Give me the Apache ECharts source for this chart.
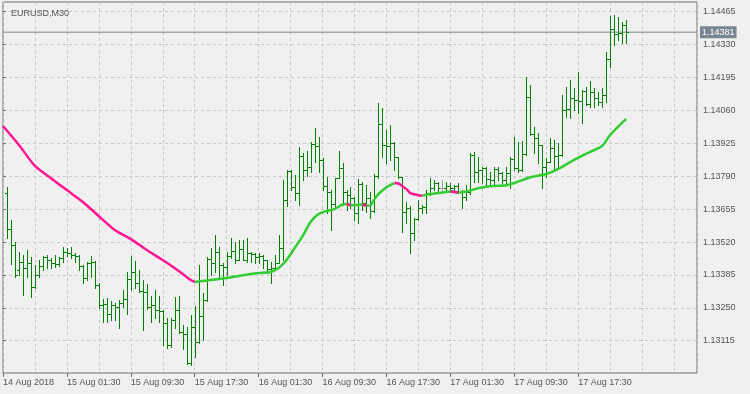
<!DOCTYPE html>
<html>
<head>
<meta charset="utf-8">
<script src="https://cdn.jsdelivr.net/npm/echarts@6/dist/echarts.min.js"></script>
<style>
html, body { margin: 0; padding: 0; background: #f0f0f0; }
#chart { width: 750px; height: 394px; }
</style>
</head>
<body>
<div id="chart"></div>
<script>
// EURUSD M30 bars, oldest first
const barOpen = [1.13721,1.13573,1.13507,1.13405,1.13438,1.13413,1.13434,1.13335,1.13384,1.13421,
1.13458,1.13446,1.13434,1.13430,1.13454,1.13479,1.13475,1.13466,1.13462,1.13421,
1.13372,1.13434,1.13438,1.13343,1.13261,1.13266,1.13225,1.13261,1.13253,1.13270,
1.13286,1.13368,1.13397,1.13352,1.13319,1.13315,1.13253,1.13261,1.13241,1.13237,
1.13188,1.13097,1.13200,1.13241,1.13151,1.13143,1.13024,1.13171,1.13110,1.13216,
1.13282,1.13450,1.13434,1.13479,1.13425,1.13417,1.13462,1.13483,1.13446,1.13491,
1.13446,1.13475,1.13471,1.13458,1.13462,1.13446,1.13409,1.13413,1.13434,1.13495,
1.13692,1.13811,1.13745,1.13721,1.13873,1.13815,1.13828,1.13923,1.13914,1.13857,
1.13749,1.13725,1.13676,1.13782,1.13824,1.13725,1.13712,1.13700,1.13639,1.13758,
1.13680,1.13700,1.13647,1.13790,1.14005,1.13918,1.13914,1.13927,1.13869,1.13786,
1.13643,1.13659,1.13557,1.13614,1.13659,1.13663,1.13721,1.13741,1.13762,1.13741,
1.13741,1.13749,1.13741,1.13749,1.13725,1.13704,1.13725,1.13877,1.13807,1.13815,
1.13824,1.13778,1.13774,1.13820,1.13803,1.13774,1.13803,1.13861,1.13824,1.13815,
1.13882,1.14115,1.13964,1.13947,1.13918,1.13828,1.13849,1.13906,1.13873,1.13877,
1.14062,1.14066,1.14111,1.14103,1.14099,1.14140,1.14087,1.14136,1.14111,1.14095,
1.14123,1.14271,1.14394,1.14374,1.14378,1.14410];
const barHigh = [1.13745,1.13610,1.13520,1.13479,1.13466,1.13487,1.13458,1.13425,1.13446,1.13462,
1.13466,1.13454,1.13466,1.13458,1.13499,1.13495,1.13499,1.13475,1.13466,1.13425,
1.13438,1.13462,1.13442,1.13352,1.13286,1.13290,1.13278,1.13270,1.13282,1.13323,
1.13397,1.13462,1.13442,1.13405,1.13364,1.13348,1.13298,1.13323,1.13298,1.13241,
1.13208,1.13208,1.13294,1.13298,1.13179,1.13171,1.13220,1.13257,1.13425,1.13311,
1.13458,1.13495,1.13548,1.13499,1.13434,1.13479,1.13536,1.13520,1.13528,1.13528,
1.13536,1.13479,1.13475,1.13475,1.13466,1.13446,1.13438,1.13466,1.13548,1.13774,
1.13815,1.13815,1.13794,1.13910,1.13886,1.13894,1.13931,1.13988,1.13951,1.13865,
1.13786,1.13733,1.13782,1.13894,1.13845,1.13733,1.13745,1.13704,1.13778,1.13766,
1.13753,1.13725,1.13799,1.14091,1.14070,1.13980,1.14000,1.13931,1.13869,1.13786,
1.13684,1.13667,1.13618,1.13692,1.13671,1.13733,1.13782,1.13774,1.13766,1.13774,
1.13766,1.13762,1.13753,1.13762,1.13733,1.13753,1.13886,1.13890,1.13869,1.13828,
1.13828,1.13807,1.13828,1.13828,1.13807,1.13828,1.13869,1.13951,1.13931,1.13935,
1.14197,1.14164,1.13992,1.13968,1.13918,1.13865,1.13947,1.13939,1.13927,1.14123,
1.14156,1.14185,1.14152,1.14218,1.14144,1.14156,1.14181,1.14152,1.14136,1.14152,
1.14300,1.14447,1.14451,1.14443,1.14423,1.14431];
const barLow = [1.13536,1.13430,1.13376,1.13384,1.13302,1.13376,1.13294,1.13331,1.13376,1.13405,
1.13413,1.13413,1.13417,1.13421,1.13438,1.13462,1.13454,1.13438,1.13405,1.13352,
1.13364,1.13376,1.13331,1.13249,1.13192,1.13192,1.13200,1.13200,1.13167,1.13253,
1.13225,1.13323,1.13331,1.13315,1.13159,1.13245,1.13192,1.13208,1.13192,1.13097,
1.13085,1.13089,1.13167,1.13147,1.13081,1.13020,1.13015,1.13048,1.13106,1.13118,
1.13278,1.13384,1.13397,1.13376,1.13343,1.13384,1.13454,1.13434,1.13446,1.13446,
1.13438,1.13438,1.13434,1.13434,1.13413,1.13393,1.13352,1.13413,1.13434,1.13446,
1.13667,1.13733,1.13692,1.13671,1.13774,1.13790,1.13807,1.13849,1.13807,1.13733,
1.13639,1.13569,1.13663,1.13782,1.13671,1.13651,1.13659,1.13610,1.13598,1.13651,
1.13643,1.13618,1.13643,1.13782,1.13869,1.13845,1.13857,1.13815,1.13782,1.13561,
1.13598,1.13475,1.13528,1.13610,1.13639,1.13639,1.13712,1.13733,1.13725,1.13725,
1.13733,1.13725,1.13725,1.13721,1.13659,1.13692,1.13717,1.13766,1.13766,1.13762,
1.13753,1.13753,1.13753,1.13774,1.13753,1.13762,1.13741,1.13815,1.13807,1.13811,
1.13877,1.13959,1.13886,1.13845,1.13741,1.13786,1.13849,1.13815,1.13828,1.13873,
1.14033,1.14029,1.14062,1.14050,1.14009,1.14082,1.14074,1.14074,1.14082,1.14074,
1.14095,1.14238,1.14328,1.14349,1.14337,1.14337];
const barClose = [1.13573,1.13507,1.13384,1.13438,1.13413,1.13434,1.13335,1.13384,1.13421,1.13458,
1.13446,1.13434,1.13430,1.13454,1.13479,1.13475,1.13466,1.13462,1.13421,1.13372,
1.13434,1.13438,1.13343,1.13261,1.13266,1.13225,1.13261,1.13253,1.13270,1.13286,
1.13368,1.13397,1.13352,1.13319,1.13315,1.13253,1.13261,1.13241,1.13237,1.13188,
1.13097,1.13200,1.13241,1.13151,1.13143,1.13024,1.13171,1.13110,1.13216,1.13282,
1.13450,1.13434,1.13479,1.13425,1.13417,1.13462,1.13483,1.13446,1.13491,1.13446,
1.13475,1.13471,1.13458,1.13462,1.13446,1.13409,1.13413,1.13434,1.13495,1.13692,
1.13811,1.13745,1.13721,1.13873,1.13815,1.13828,1.13923,1.13914,1.13857,1.13749,
1.13725,1.13676,1.13782,1.13824,1.13725,1.13712,1.13700,1.13639,1.13758,1.13680,
1.13700,1.13647,1.13790,1.14005,1.13918,1.13914,1.13927,1.13869,1.13786,1.13643,
1.13659,1.13557,1.13614,1.13659,1.13663,1.13721,1.13741,1.13762,1.13741,1.13741,
1.13749,1.13741,1.13749,1.13725,1.13704,1.13725,1.13877,1.13807,1.13815,1.13824,
1.13778,1.13774,1.13820,1.13803,1.13774,1.13803,1.13861,1.13824,1.13815,1.13882,
1.14115,1.13964,1.13947,1.13918,1.13828,1.13849,1.13906,1.13873,1.13877,1.14062,
1.14066,1.14111,1.14103,1.14099,1.14140,1.14087,1.14136,1.14111,1.14095,1.14123,
1.14271,1.14394,1.14374,1.14378,1.14410,1.14381];

// moving average, read at these bar positions
const maBar = [-1,3,7,11,15,19,23,27,31,35,39,43,46,47,48,51,55,59,63,66,
68,70,72,74,76,78,80,82,84,85,86,87,89,90,91,92,93,95,97,98,
99,100,101,103,104,106,109,111,113,115,118,121,125,127,131,135,138,142,146,149,
151,155];
const maValue = [1.13996,1.13918,1.13832,1.13782,1.13733,1.13684,1.13626,1.13569,1.13532,1.13487,
1.13446,1.13401,1.13364,1.13356,1.13358,1.13364,1.13372,1.13384,1.13393,1.13397,
1.13413,1.13446,1.13495,1.13544,1.13602,1.13635,1.13647,1.13655,1.13674,1.13676,
1.13671,1.13671,1.13674,1.13669,1.13671,1.13696,1.13717,1.13745,1.13762,1.13760,
1.13749,1.13737,1.13721,1.13712,1.13710,1.13717,1.13723,1.13727,1.13723,1.13727,
1.13741,1.13749,1.13753,1.13762,1.13786,1.13799,1.13820,1.13857,1.13890,1.13914,
1.13959,1.14025];

const priceTicks = [1.13115,1.13250,1.13385,1.13520,1.13655,1.13790,1.13925,1.14060,1.14195,1.14330,1.14465];
const timePos = [0,16,32,48,64,80,96,112,128,144];
const timeLabels = ['14 Aug 2018','15 Aug 01:30','15 Aug 09:30','15 Aug 17:30','16 Aug 01:30',
  '16 Aug 09:30','16 Aug 17:30','17 Aug 01:30','17 Aug 09:30','17 Aug 17:30'];
const lastPrice = 1.14381;

const xMax = 173.75;
const font = 'Liberation Sans, Arial, sans-serif';
const textColor = '#555555';

const bars = barOpen.map((o, i) => [i + 1, o, barHigh[i], barLow[i], barClose[i]]);

// split MA into rising (green) and falling (pink) pieces
const pinkSet = new Set(), greenSet = new Set();
for (let k = 0; k < maValue.length - 1; k++) {
    const s = maValue[k + 1] < maValue[k] ? pinkSet : greenSet;
    s.add(k); s.add(k + 1);
}
const maPink = maBar.map((b, k) => [b + 1, pinkSet.has(k) ? maValue[k] : null]);
const maGreen = maBar.map((b, k) => [b + 1, greenSet.has(k) ? maValue[k] : null]);

// OHLC bar: 1px stem, open tick on the left, close tick on the right
function renderBar(params, api) {
    const x = api.value(0);
    const o = api.coord([x, api.value(1)]);
    const h = api.coord([x, api.value(2)]);
    const l = api.coord([x, api.value(3)]);
    const c = api.coord([x, api.value(4)]);
    const px = Math.round(o[0]);
    const color = api.value(1) === api.value(4) ? '#a0a0a0' : '#008000';
    const top = Math.round(h[1]), bottom = Math.round(l[1]);
    const oy = Math.round(o[1]), cy = Math.round(c[1]);
    return {
        type: 'group',
        children: [
            {type: 'rect', shape: {x: px, y: top, width: 1, height: bottom - top + 1}, style: {fill: color}},
            {type: 'rect', shape: {x: px - 2, y: oy, width: 2, height: 1}, style: {fill: color}},
            {type: 'rect', shape: {x: px + 1, y: cy, width: 2, height: 1}, style: {fill: color}}
        ]
    };
}

const chart = echarts.init(document.getElementById('chart'), null, {renderer: 'canvas'});
const option = {
    animation: false,
    backgroundColor: '#f0f0f0',
    title: {
        text: 'EURUSD,M30',
        left: 6,
        top: 4,
        textStyle: {fontSize: 9, fontWeight: 'normal', color: textColor, fontFamily: font}
    },
    grid: {
        left: 2, right: 53, top: 2, bottom: 21,
        show: true,
        borderColor: '#6e6e6e',
        borderWidth: 1,
        backgroundColor: 'transparent'
    },
    xAxis: [
        {
            type: 'value',
            min: 0,
            max: xMax,
            interval: 8,
            axisLine: {show: false},
            axisTick: {show: false},
            axisLabel: {show: false},
            splitLine: {show: true, lineStyle: {color: '#c8c8c8', type: [3, 3]}}
        },
        {
            type: 'value',
            min: 0,
            max: xMax,
            position: 'bottom',
            axisLine: {show: false},
            axisTick: {show: true, customValues: timePos, length: 4, lineStyle: {color: '#6e6e6e'}},
            axisLabel: {
                customValues: timePos,
                margin: 5,
                align: 'left',
                fontSize: 9,
                color: textColor,
                fontFamily: font,
                formatter: v => timeLabels[timePos.indexOf(Math.round(v))] || ''
            },
            splitLine: {show: false}
        }
    ],
    yAxis: {
        type: 'value',
        position: 'right',
        min: 1.129826,
        max: 1.145048,
        axisLine: {show: false},
        axisTick: {show: true, customValues: priceTicks, length: 3, lineStyle: {color: '#6e6e6e'}},
        axisLabel: {
            customValues: priceTicks,
            margin: 6,
            fontSize: 9,
            color: textColor,
            fontFamily: font,
            formatter: v => v.toFixed(5)
        },
        splitLine: {show: true, lineStyle: {color: '#c8c8c8', type: [3, 3]}}
    },
    series: [
        {
            name: 'price',
            type: 'line',
            xAxisIndex: 0,
            data: [[0, lastPrice], [xMax, lastPrice]],
            showSymbol: false,
            silent: true,
            lineStyle: {color: '#7b8693', width: 1},
            endLabel: {
                show: true,
                distance: 3,
                formatter: () => lastPrice.toFixed(5),
                color: '#ffffff',
                backgroundColor: '#7b8693',
                padding: [2, 2, 1, 2],
                fontSize: 9,
                fontFamily: font
            },
            z: 1
        },
        {
            name: 'bars',
            type: 'custom',
            renderItem: renderBar,
            xAxisIndex: 0,
            encode: {x: 0, y: [1, 2, 3, 4]},
            data: bars,
            silent: true,
            z: 2
        },
        {
            name: 'MA up',
            type: 'line',
            xAxisIndex: 0,
            data: maGreen,
            showSymbol: false,
            connectNulls: false,
            smooth: 0.25,
            silent: true,
            lineStyle: {color: '#32cd32', width: 2.5},
            z: 3
        },
        {
            name: 'MA down',
            type: 'line',
            xAxisIndex: 0,
            data: maPink,
            showSymbol: false,
            connectNulls: false,
            smooth: 0.25,
            silent: true,
            lineStyle: {color: '#ff1493', width: 2.5},
            z: 3
        }
    ]
};
chart.setOption(option);
</script>
</body>
</html>
